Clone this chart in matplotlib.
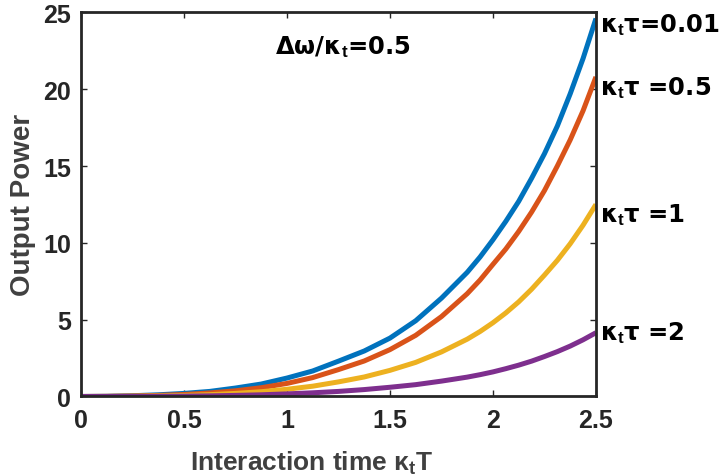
import matplotlib
matplotlib.use("Agg")
import matplotlib.pyplot as plt

plt.rcParams["font.family"] = ["Liberation Sans", "DejaVu Sans"]
plt.rcParams["font.weight"] = "bold"
plt.rcParams["mathtext.fontset"] = "custom"
plt.rcParams["mathtext.rm"] = "Liberation Sans"
plt.rcParams["mathtext.bf"] = "Liberation Sans:bold"
plt.rcParams["mathtext.it"] = "Liberation Sans:bold"
plt.rcParams["mathtext.default"] = "bf"

# interaction time kappa_t * T
t = [0.0, 0.125, 0.25, 0.375, 0.5, 0.625, 0.75, 0.875, 1.0, 1.125, 1.25,
     1.375, 1.5, 1.625, 1.75, 1.875, 1.9375, 2.0, 2.0625, 2.125, 2.1875,
     2.25, 2.3125, 2.375, 2.4375, 2.5]

# output power for each kappa_t * tau
p_001 = [0.0, 0.012, 0.05, 0.11, 0.2, 0.33, 0.55, 0.81, 1.2, 1.66, 2.3,
         2.96, 3.8, 4.93, 6.4, 8.08, 9.08, 10.2, 11.4, 12.7, 14.2,
         15.8, 17.6, 19.7, 22.0, 24.6]
p_05 = [0.0, 0.008, 0.03, 0.07, 0.13, 0.23, 0.37, 0.57, 0.85, 1.23, 1.75,
        2.31, 3.05, 3.98, 5.2, 6.69, 7.58, 8.6, 9.6, 10.74, 12.0,
        13.4, 15.0, 16.7, 18.6, 20.8]
p_1 = [0.0, 0.005, 0.02, 0.04, 0.07, 0.12, 0.2, 0.31, 0.47, 0.67, 0.95,
       1.27, 1.7, 2.22, 2.9, 3.73, 4.23, 4.8, 5.44, 6.16, 6.98,
       7.9, 8.86, 9.94, 11.15, 12.5]
p_2 = [0.0, 0.001, 0.005, 0.01, 0.02, 0.04, 0.07, 0.11, 0.17, 0.24, 0.33,
       0.45, 0.6, 0.77, 1.0, 1.26, 1.42, 1.6, 1.81, 2.04, 2.30,
       2.6, 2.92, 3.28, 3.69, 4.15]

series = [p_001, p_05, p_1, p_2]
colors = ["#0072BD", "#D95319", "#EDB120", "#7E2F8E"]
labels = ["κ$_t$τ=0.01", "κ$_t$τ =0.5", "κ$_t$τ =1", "κ$_t$τ =2"]
label_base = [23.8, 19.7, 11.4, 3.75]

fig = plt.figure(figsize=(7.25, 4.77), dpi=100)
ax = fig.add_axes([0.1117, 0.1667, 0.7103, 0.8053])

for vals, c in zip(series, colors):
    ax.plot(t, vals, color=c, lw=3.6, solid_capstyle="butt",
            solid_joinstyle="round")

ax.set_xlim(0, 2.5)
ax.set_ylim(0, 25)
ax.set_xticks([0, 0.5, 1, 1.5, 2, 2.5])
ax.set_xticklabels(["0", "0.5", "1", "1.5", "2", "2.5"])
ax.set_yticks([0, 5, 10, 15, 20, 25])

for s in ax.spines.values():
    s.set_linewidth(2.0)
    s.set_color("#262626")
ax.tick_params(direction="in", length=4, width=1.0, top=True, right=True,
               labelsize=18, colors="#262626")
ax.tick_params(axis="x", pad=8)
ax.tick_params(axis="y", pad=7)
for lab in ax.get_xticklabels() + ax.get_yticklabels():
    lab.set_fontweight("bold")

ax.set_xlabel("Interaction time κ$_t$T", fontsize=19, fontweight="bold",
              color="#404040")
ax.xaxis.set_label_coords(0.447, -0.135)
ax.set_ylabel("Output Power", fontsize=20, fontweight="bold",
              color="#404040")
ax.yaxis.set_label_coords(-0.088, 0.5)

ann_font = ["DejaVu Sans"]
ax.text(0.942, 22.36, "Δω/κ$_t$=0.5", fontsize=17.5, fontweight="bold",
        family=ann_font, ha="left", va="baseline", color="black")

for lab, y in zip(labels, label_base):
    ax.text(2.52, y, lab, fontsize=17.5, fontweight="bold", family=ann_font,
            ha="left", va="baseline", color="black", clip_on=False)

fig.savefig("out.png", dpi=100)
